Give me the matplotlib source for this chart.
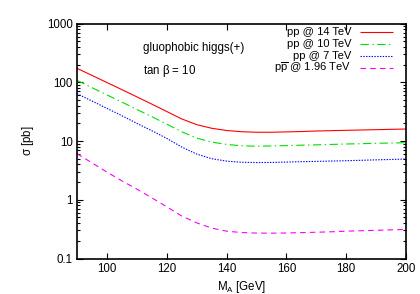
import matplotlib
matplotlib.use('Agg')
import matplotlib.pyplot as plt
import numpy as np
from matplotlib.ticker import FixedLocator, NullFormatter, LogLocator

plt.rcParams['font.family'] = ['Liberation Sans', 'DejaVu Sans']
plt.rcParams['mathtext.fontset'] = 'custom'
plt.rcParams['mathtext.rm'] = 'Liberation Sans'
plt.rcParams['mathtext.it'] = 'Liberation Sans:italic'
plt.rcParams['lines.scale_dashes'] = False

# M_A [GeV]
mass = [90, 95, 100, 105, 110, 115, 120, 125, 130, 135, 140, 145,
        150, 155, 160, 165, 170, 175, 180, 185, 190, 195, 200]

# cross sections [pb]
xs_14 = [173, 131, 99, 75, 56.5, 42.5, 31.8, 23.8, 19.0, 16.5, 15.1, 14.4,
         14.1, 14.1, 14.3, 14.5, 14.8, 15.0, 15.2, 15.4, 15.6, 15.8, 16.0]
xs_10 = [108, 81, 61, 46, 34.5, 26, 19.4, 14.4, 11.2, 9.6, 8.75, 8.3,
         8.15, 8.25, 8.35, 8.5, 8.6, 8.75, 8.9, 9.0, 9.15, 9.25, 9.35]
xs_7 = [64, 48, 36, 27, 20.0, 15.0, 11.1, 7.9, 6.0, 5.0, 4.55, 4.35,
        4.3, 4.32, 4.38, 4.45, 4.5, 4.56, 4.62, 4.7, 4.78, 4.85, 4.93]
xs_tev = [6.1, 4.25, 2.96, 2.1, 1.52, 1.08, 0.76, 0.53, 0.405, 0.33, 0.292, 0.277,
          0.271, 0.27, 0.272, 0.276, 0.28, 0.285, 0.292, 0.297, 0.302, 0.307, 0.313]

labels = ['pp @ 14 TeV', 'pp @ 10 TeV', 'pp @ 7 TeV', r'p$\overline{\mathrm{p}}$ @ 1.96 TeV']
colors = ['#ff0000', '#00dd00', '#0000ff', '#ff00ff']
styles = [(0, ()), (0, (6, 2.5, 1, 2.5)), (0, (1, 1)), (0, (4, 3))]
series = [xs_14, xs_10, xs_7, xs_tev]

fs = 8.3
fs_key = 8.0

fig = plt.figure(figsize=(4.2, 2.94), dpi=100)
ax = fig.add_axes([0.1833, 0.1207, 0.7834, 0.7993])

for ys, c, ls in zip(series, colors, styles):
    ax.plot(mass, ys, color=c, lw=0.8, linestyle=ls)

ax.set_yscale('log')
ax.set_xlim(90, 200)
ax.set_ylim(0.1, 1000)
ax.xaxis.set_major_locator(FixedLocator([100, 120, 140, 160, 180, 200]))
ax.set_yticks([0.1, 1, 10, 100, 1000])
ax.set_yticklabels(['0.1', '1', '10', '100', '1000'])
ax.yaxis.set_minor_locator(LogLocator(base=10, subs=np.arange(2, 10)))
ax.yaxis.set_minor_formatter(NullFormatter())

ax.tick_params(which='both', direction='in', top=True, right=True, labelsize=fs, width=0.8)
ax.tick_params(which='major', length=4.5, pad=3)
ax.tick_params(which='minor', length=2.5)
for s in ax.spines.values():
    s.set_linewidth(1.2)

ax.set_xlabel(r'M$_\mathrm{A}$ [GeV]', fontsize=fs, labelpad=3)
ax.set_ylabel(r'$\mathrm{\sigma}$ [pb]', fontsize=fs, labelpad=8)

ax.text(0.2006, 0.896, 'gluophobic higgs(+)', transform=ax.transAxes, fontsize=fs, va='center')
ax.text(0.2006, 0.798, r'tan $\mathrm{\beta}$ = 10', transform=ax.transAxes, fontsize=fs, va='center')

# gnuplot style key, top right
key_y = [0.962, 0.911, 0.860, 0.809]
for lab, c, ls, ky in zip(labels, colors, styles, key_y):
    ax.text(0.834, ky - 0.0125, lab, transform=ax.transAxes, fontsize=fs_key, ha='right', va='baseline')
    ax.plot([0.860, 0.959], [ky, ky], transform=ax.transAxes, color=c, lw=0.8, linestyle=ls)

fig.savefig('out.png', dpi=100)
